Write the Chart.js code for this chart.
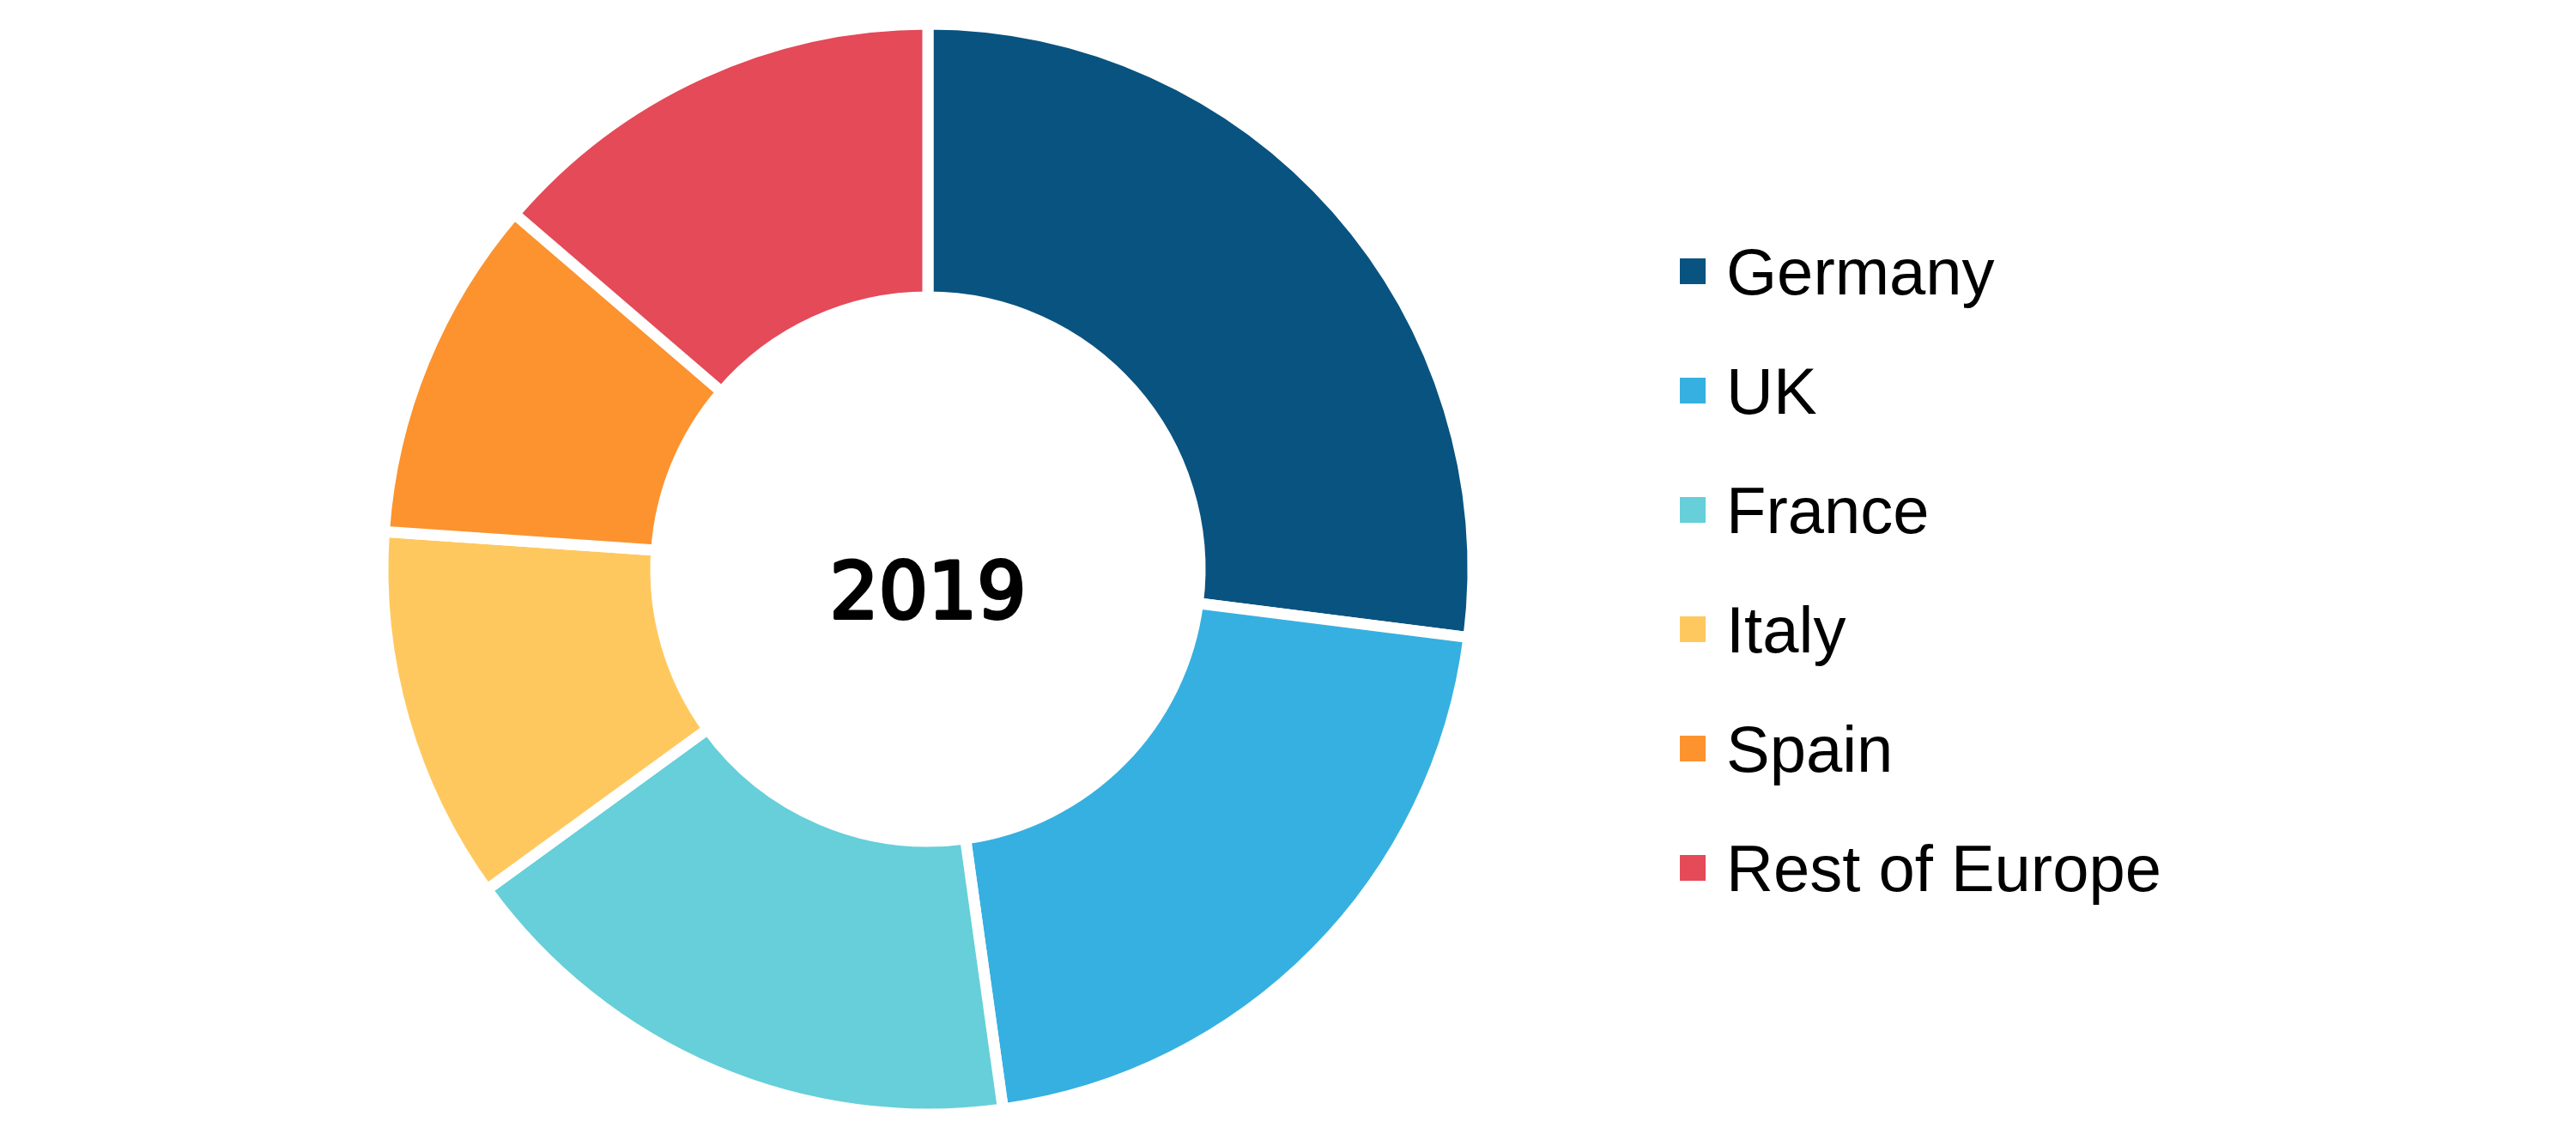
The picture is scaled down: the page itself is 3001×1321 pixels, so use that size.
<!DOCTYPE html>
<html>
<head>
<meta charset="utf-8">
<title>Europe 2019</title>
<script src="https://cdn.jsdelivr.net/npm/chart.js@4.4.1/dist/chart.umd.min.js"></script>
<style>
    body { margin: 0; background: #ffffff; }
    canvas { display: block; }
</style>
</head>
<body>
<canvas id="myChart" width="3001" height="1321"></canvas>
<script>
// Datos del gráfico (% aproximado)
const paises = ['Germany', 'UK', 'France', 'Italy', 'Spain', 'Rest of Europe'];
const valores = [27.0, 20.8, 17.2, 11.1, 10.2, 13.7];
const colores = ['#095380', '#36B0E0', '#66CFD9', '#FFC85E', '#FC932F', '#E44A58'];
const anio = '2019';

// Texto central y leyenda dibujados sobre el canvas
const extras = {
    id: 'extras',
    afterDraw(chart) {
        const ctx = chart.ctx;
        const meta = chart.getDatasetMeta(0);
        const arco = meta.data[0];
        ctx.save();
        ctx.fillStyle = '#000000';
        ctx.strokeStyle = '#000000';
        ctx.lineWidth = 4;
        ctx.lineJoin = 'round';
        ctx.font = '90px "DejaVu Sans"';
        ctx.textAlign = 'center';
        ctx.textBaseline = 'alphabetic';
        ctx.fillText(anio, arco.x, arco.y + 57);
        ctx.strokeText(anio, arco.x, arco.y + 57);

        ctx.font = '76px "Liberation Sans"';
        ctx.textAlign = 'left';
        chart.data.labels.forEach((label, i) => {
            const y = 316 + i * 139;
            ctx.fillStyle = chart.data.datasets[0].backgroundColor[i];
            ctx.fillRect(1957, y - 15, 30, 30);
            ctx.fillStyle = '#000000';
            ctx.fillText(label, 2011, y + 27);
        });
        ctx.restore();
    }
};

function renderChart() {
    const ctx = document.getElementById('myChart').getContext('2d');
    new Chart(ctx, {
        type: 'doughnut',
        data: {
            labels: paises,
            datasets: [{
                data: valores,
                backgroundColor: colores,
                borderColor: '#ffffff',
                borderWidth: 13
            }]
        },
        options: {
            responsive: false,
            animation: false,
            radius: 635,
            cutout: '49.92%',
            layout: { padding: { left: 0, right: 839, top: 5, bottom: 0 } },
            plugins: {
                legend: { display: false },
                tooltip: { enabled: false }
            }
        },
        plugins: [extras]
    });
}

renderChart();
</script>
</body>
</html>
